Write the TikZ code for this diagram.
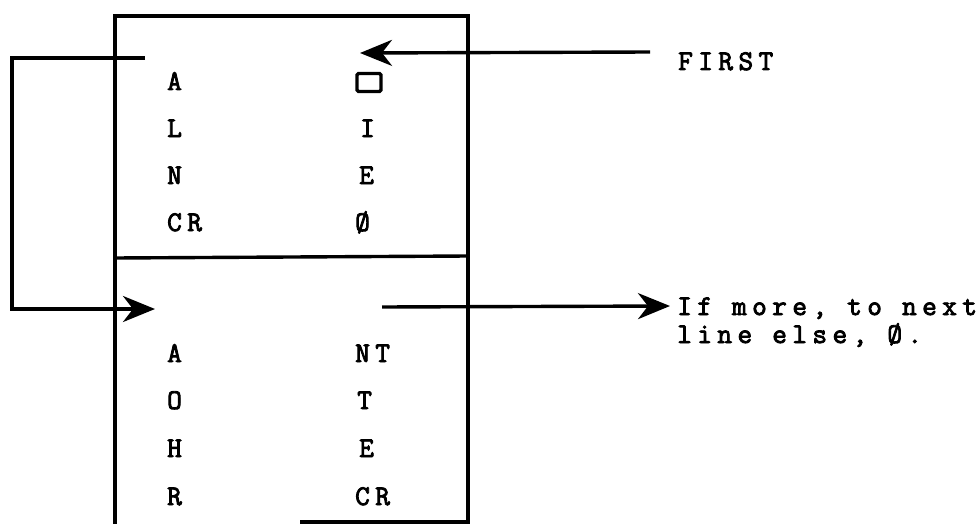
\documentclass[tikz,border=0pt]{standalone}
\usepackage{fontspec}
\newfontfamily\tw{Latin Modern Mono}[LetterSpace=19,FakeBold=3]
\usetikzlibrary{arrows.meta}
\tikzset{
  ln/.style={line width=3.4pt},
  tip/.style={-{Stealth[length=32pt,width=26pt,inset=10pt]}},
  lbl/.style={inner sep=0pt,anchor=base west,font=\tw\fontsize{28.5}{32}\selectfont}
}
\begin{document}
\begin{tikzpicture}[x=1pt,y=-1pt]
\useasboundingbox[fill=white] (0,0) rectangle (979,524);
% frame
\draw[ln] (300,522) -- (468,522) -- (468,16) -- (115,16) -- (115,524);
\draw[ln] (115,258) -- (468,256);
% top block
\node[lbl] (a1) at (167,90) {A};
\node[lbl] (l1) at (167,137) {L};
\node[lbl] (n1) at (167,184) {N};
\node[lbl] (cr1) at (167,231) {CR};
\node[draw,line width=3.2pt,minimum width=24pt,minimum height=18pt,rounded corners=1.5pt,inner sep=0pt] (blank) at (369,82.5) {};
\node[lbl] (i1) at (360,137) {I};
\node[lbl] (e1) at (359,184) {E};
\node[lbl] (z1) at (355,231) {Ø};
% bottom block
\node[lbl] (a2) at (167,362) {A};
\node[lbl] (o2) at (167,409) {O};
\node[lbl] (h2) at (167,457) {H};
\node[lbl] (r2) at (167,505) {R};
\node[lbl] (nt2) at (355,362) {NT};
\node[lbl] (t2) at (357,409) {T};
\node[lbl] (e2) at (359,457) {E};
\node[lbl] (cr2) at (355,505) {CR};
% labels
\node[lbl] (first) at (678,70) {FIRST};
\node[lbl] (more) at (677,315) {If more, to next};
\node[lbl] (more2) at (677,343) {line else, Ø.};
% connectors
\coordinate (fs) at (650,52);
\coordinate (ft) at (360,53);
\draw[ln,tip] (fs) -- (ft);
\coordinate (ls) at (145,58);
\coordinate (lt) at (155,309);
\draw[ln,tip] (ls) -- (12,58) -- (12,309) -- (lt);
\coordinate (rs) at (382,307);
\coordinate (rt) at (670,306);
\draw[ln,tip] (rs) -- (rt);
\end{tikzpicture}
\end{document}
